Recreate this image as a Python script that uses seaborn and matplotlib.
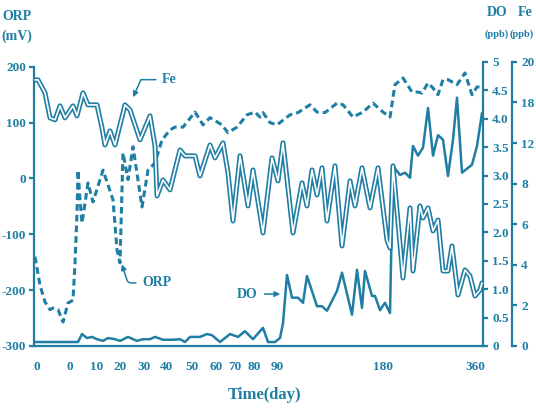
import numpy as np
import pandas as pd
import seaborn as sns
import matplotlib.pyplot as plt
import matplotlib.patheffects as pe

# position along the (non-uniform) time axis and the tick labels shown there
tick_pos = [0, 33, 60, 83, 107, 130, 155, 179, 198, 217, 240, 346, 438]
tick_lab = ["0", "0", "10", "20", "30", "40", "50", "60", "70", "80", "90", "180", "360"]

# ORP (mV), dashed line, left axis
orp_t = [-2, 3, 8, 13, 16, 21, 26, 31, 36, 38, 40, 41, 43, 45, 51, 56, 66, 76, 80, 83,
         86, 91, 96, 105, 111, 118, 125, 133, 138, 146, 158, 166, 173, 185, 191, 200, 210, 218, 223, 226,
         233, 240, 253, 261, 273, 280, 288, 300, 306, 316, 326, 336, 346, 353, 358, 366, 375, 380, 385, 391,
         396, 401, 406, 411, 420, 428, 435, 440, 445]
orp_v = [-140, -191, -221, -235, -232, -235, -257, -223, -218, -151, -62, 15, -38, -80, -8, -42, 15, -38, -128, -151,
         46, -2, 57, -51, 15, 28, 69, 87, 92, 92, 119, 96, 109, 96, 82, 92, 114, 119, 110, 118,
         100, 96, 114, 118, 132, 119, 118, 135, 132, 110, 119, 135, 119, 110, 168, 180, 155, 155, 153, 171,
         162, 150, 177, 177, 168, 189, 150, 164, 164]

# DO (ppb), solid line, first right axis
do_t = [-2, 41, 45, 50, 55, 60, 66, 71, 78, 83, 91, 100, 106, 113, 118, 126, 136, 143, 148, 153,
        163, 170, 175, 183, 193, 201, 208, 216, 226, 231, 238, 243, 246, 250, 255, 261, 266, 270, 280, 285,
        290, 300, 305, 315, 320, 325, 328, 335, 338, 343, 348, 353, 356, 363, 368, 373, 376, 381, 386, 391,
        396, 401, 406, 411, 416, 420, 425, 435, 440, 445]
do_v = [0.07, 0.07, 0.21, 0.14, 0.16, 0.12, 0.09, 0.14, 0.12, 0.09, 0.16, 0.09, 0.12, 0.12, 0.16, 0.11, 0.11, 0.12, 0.07, 0.16,
        0.16, 0.21, 0.19, 0.07, 0.21, 0.16, 0.26, 0.12, 0.32, 0.07, 0.07, 0.14, 0.40, 1.25, 0.85, 0.85, 0.76, 1.23, 0.70, 0.70,
        0.62, 0.97, 1.29, 0.55, 1.34, 0.67, 1.32, 0.88, 0.88, 0.63, 0.76, 0.58, 3.17, 3.01, 3.05, 2.96, 3.52, 3.35, 3.49, 4.19,
        3.35, 3.71, 3.63, 2.99, 3.63, 4.37, 3.05, 3.19, 3.52, 4.10]

# Fe (ppb), double line, second right axis
fe_t = [-2, 1, 8, 13, 18, 23, 28, 36, 40, 46, 51, 60, 65, 68, 73, 78, 88, 93, 103, 113,
        118, 120, 126, 133, 143, 148, 158, 163, 173, 178, 186, 191, 196, 203, 211, 216, 226, 235, 241, 246,
        256, 265, 270, 275, 280, 285, 290, 298, 305, 313, 318, 325, 333, 341, 350, 353, 356, 366, 373, 376,
        383, 386, 391, 396, 401, 406, 411, 415, 421, 428, 433, 438, 443, 445]
fe_v = [18.73, 18.73, 17.82, 16.06, 15.92, 16.90, 16.06, 16.90, 16.20, 17.82, 16.97, 16.97, 15.35, 14.15, 15.14, 14.15, 16.97, 16.62, 14.51, 16.20,
        14.08, 10.56, 11.69, 10.99, 13.80, 13.38, 13.38, 11.97, 14.15, 13.24, 14.30, 12.18, 8.80, 13.38, 9.86, 12.39, 7.96, 13.24, 11.62, 14.30,
        7.96, 11.48, 9.86, 12.39, 10.63, 12.54, 8.80, 12.68, 7.04, 11.62, 9.86, 12.54, 9.72, 12.54, 7.46, 6.90, 12.68, 4.79, 9.72, 5.28,
        9.86, 9.01, 9.72, 8.10, 8.87, 5.28, 5.28, 7.04, 3.59, 5.35, 4.93, 3.52, 3.94, 4.44]

orp_ticks = [-300, -200, -100, 0, 100, 200]
do_ticks = [0, 0.5, 1.0, 1.5, 2.0, 2.5, 3.0, 3.5, 4.0, 4.5, 5]
do_labels = ["0", "0.5", "1.0", "1.5", "2.0", "2.5", "3.0", "3.5", "4.0", "4.5", "5"]
fe_labels = ["0", "2", "4", "6", "8", "12", "18", "20"]

sns.set_style("white")
plt.rcParams['font.family'] = ['Liberation Serif', 'DejaVu Serif']
plt.rcParams['font.weight'] = 'bold'
C = "#1f7ea3"

orp = pd.DataFrame({"t": orp_t, "ORP": orp_v})
do = pd.DataFrame({"t": do_t, "DO": do_v})
fe = pd.DataFrame({"t": fe_t, "Fe": fe_v})

fig = plt.figure(figsize=(5.36, 4.09), dpi=100)
ax = fig.add_axes([34/536, 1-346/409, (483-34)/536, (346-59)/409])
ax2 = ax.twinx()
ax3 = ax.twinx()

sns.lineplot(data=orp, x="t", y="ORP", ax=ax, color=C, lw=2.2, estimator=None, sort=False,
             linestyle=(0, (2.2, 1.3)))
sns.lineplot(data=do, x="t", y="DO", ax=ax2, color=C, lw=1.8, estimator=None, sort=False)
sns.lineplot(data=fe, x="t", y="Fe", ax=ax3, color="white", lw=1.2, estimator=None, sort=False,
             path_effects=[pe.Stroke(linewidth=3.6, foreground=C), pe.Normal()])

ax.set_xlim(-3, 446)
ax.set_ylim(-300, 214)
ax2.set_ylim(0, 5.05)
ax3.set_ylim(0, 20.2)

# spines
for a in (ax, ax2, ax3):
    for s in a.spines.values():
        s.set_visible(False)
        s.set_color(C)
        s.set_linewidth(1.6)
    a.set_xlabel("")
    a.set_ylabel("")
ax.spines["left"].set_visible(True)
ax.spines["left"].set_bounds(-300, 200)
ax.spines["bottom"].set_visible(True)
ax2.spines["right"].set_visible(True)
ax2.spines["right"].set_bounds(0, 5)
ax3.spines["right"].set_visible(True)
ax3.spines["right"].set_bounds(0, 20)
ax3.spines["right"].set_position(("outward", 21))

ax.set_xticks(tick_pos, tick_lab)
ax.set_yticks(orp_ticks, [str(v) for v in orp_ticks])
ax2.set_yticks(do_ticks, do_labels)
ax3.set_yticks(np.linspace(0, 20, len(fe_labels)), fe_labels)

ax.tick_params(axis="x", length=0, pad=11, labelsize=9.5, labelcolor=C)
ax.tick_params(axis="y", left=True, length=3.5, width=1.6, color=C, labelsize=9.5, labelcolor=C, pad=2)
for a in (ax2, ax3):
    a.tick_params(axis="y", right=True, length=3.5, width=1.6, color=C, labelsize=9.5, labelcolor=C, pad=3)

# axis titles
fig.text(17/536, 1-16/409, "ORP", ha="center", va="center", fontsize=10, color=C, fontweight="bold")
fig.text(17/536, 1-36/409, "(mV)", ha="center", va="center", fontsize=10, color=C, fontweight="bold")
fig.text(497/536, 1-13/409, "DO", ha="center", va="center", fontsize=10, color=C, fontweight="bold")
fig.text(497/536, 1-34/409, "(ppb)", ha="center", va="center", fontsize=7.5, color=C, fontweight="bold")
fig.text(525/536, 1-13/409, "Fe", ha="center", va="center", fontsize=10, color=C, fontweight="bold")
fig.text(522/536, 1-34/409, "(ppb)", ha="center", va="center", fontsize=7.5, color=C, fontweight="bold")
fig.text(265/536, 1-395/409, "Time(day)", ha="center", va="center", fontsize=12, color=C, fontweight="bold")

# series labels with arrows
arr = dict(arrowstyle="-|>", color=C, lw=1.1, mutation_scale=8)
ax.annotate("Fe", xy=(95, 141), xytext=(125, 177), ha="left", va="center", fontsize=10, color=C,
            arrowprops=dict(arr, connectionstyle="angle,angleA=0,angleB=66,rad=0"))
ax.annotate("ORP", xy=(84, -149), xytext=(105, -187), ha="left", va="center", fontsize=10, color=C,
            arrowprops=dict(arr, connectionstyle="angle,angleA=0,angleB=108,rad=3"))
ax.annotate("DO", xy=(246, -207), xytext=(220, -207), ha="right", va="center", fontsize=10, color=C,
            arrowprops=dict(arr, shrinkA=3))

fig.savefig("out.png", dpi=100)
